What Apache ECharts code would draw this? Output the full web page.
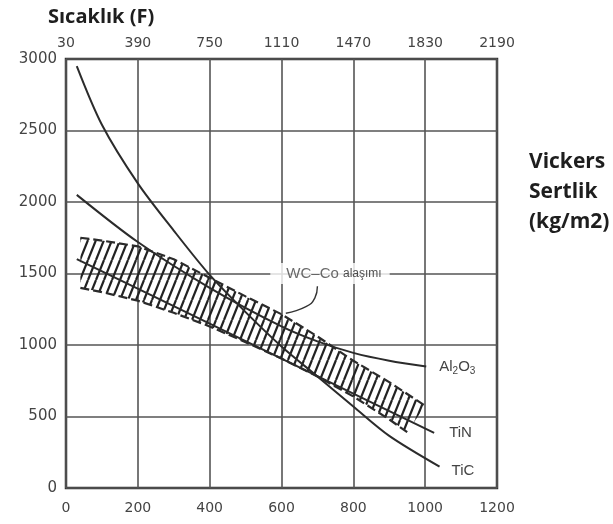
<!DOCTYPE html>
<html>
<head>
<meta charset="utf-8">
<script src="https://cdn.jsdelivr.net/npm/echarts@6/dist/echarts.min.js"></script>
<style>
html,body{margin:0;padding:0;background:#fff;}
#chart{width:613px;height:524px;}
</style>
</head>
<body>
<div id="chart"></div>
<script>
// ---- data (temperature °C on x, Vickers hardness on y) ----
const xTicks = [0, 200, 400, 600, 800, 1000, 1200];
const topTickLabels = ['30', '390', '750', '1110', '1470', '1830', '2190'];
const yTicks = [0, 500, 1000, 1500, 2000, 2500, 3000];

const ticX = [30, 100, 200, 300, 400, 500, 600, 700, 800, 900, 1040];
const ticY = [2950, 2540, 2130, 1800, 1490, 1230, 990, 780, 570, 365, 150];

const tinX = [30, 400, 800, 1025];
const tinY = [1600, 1150, 660, 385];

const aloX = [30, 200, 400, 600, 700, 800, 900, 1003];
const aloY = [2050, 1720, 1400, 1130, 1025, 945, 890, 850];

const wcUpperX = [40, 100, 200, 300, 400, 500, 600, 700, 800, 900, 1000];
const wcUpperY = [1750, 1730, 1690, 1600, 1470, 1340, 1215, 1060, 890, 740, 575];
const wcLowerX = [40, 100, 200, 300, 400, 500, 600, 700, 800, 900, 950];
const wcLowerY = [1400, 1370, 1310, 1225, 1130, 1020, 905, 780, 640, 480, 390];

const leaderX = [700, 693, 668, 612];
const leaderY = [1410, 1330, 1268, 1222];

const wcLabelPos = [735, 1500];

// ---- helpers ----
const pair = (xs, ys) => xs.map((x, i) => [x, ys[i]]);

function hatchPattern() {
  const w = 8, h = 20;
  const c = document.createElement('canvas');
  c.width = w; c.height = h;
  const g = c.getContext('2d');
  g.strokeStyle = '#222';
  g.lineWidth = 2.2;
  for (const dx of [-w, 0, w]) {
    g.beginPath();
    g.moveTo(dx, h);
    g.lineTo(dx + w, 0);
    g.stroke();
  }
  return c;
}
const pattern = { image: hatchPattern(), repeat: 'repeat' };

const lineCol = '#2b2b2b';
const axisFont = 'DejaVu Sans';

const chart = echarts.init(document.getElementById('chart'), null, { renderer: 'canvas' });

const solid = (name, xs, ys, label, offset, dist) => ({
  name, type: 'line', data: pair(xs, ys), symbol: 'none', smooth: 0.3,
  lineStyle: { color: lineCol, width: 2 }, z: 5, silent: true,
  endLabel: {
    show: true, formatter: label, distance: dist, offset: offset,
    color: '#444', fontFamily: 'Liberation Sans', fontSize: 15,
    rich: { s: { fontSize: 10, color: '#444', fontFamily: 'Liberation Sans', padding: [9, 0, 0, 0] } }
  }
});

chart.setOption({
  animation: false,
  backgroundColor: '#fff',
  title: [
    { text: 'Sıcaklık (F)', left: 43, top: 2,
      textStyle: { fontFamily: 'Open Sans', fontWeight: 'bold', fontSize: 20, color: '#1e1e1e' } },
    { text: 'Vickers\nSertlik\n(kg/m2)', left: 524, top: 142,
      textStyle: { fontFamily: 'Open Sans', fontWeight: 'bold', fontSize: 21, color: '#1e1e1e', lineHeight: 30 } }
  ],
  grid: { left: 66, right: 116, top: 59, bottom: 36, show: true,
          borderColor: '#333', borderWidth: 2.5, backgroundColor: 'transparent' },
  xAxis: [
    { type: 'value', position: 'bottom', min: 0, max: 1200, interval: 200,
      axisLine: { show: false }, axisTick: { show: false },
      splitLine: { show: true, lineStyle: { color: '#555', width: 1.6 } },
      axisLabel: { margin: 13, color: '#444', fontFamily: axisFont, fontSize: 14,
                   formatter: (v) => String(v) } },
    { type: 'value', position: 'top', min: 0, max: 1200, interval: 200,
      axisLine: { show: false }, axisTick: { show: false }, splitLine: { show: false },
      axisLabel: { margin: 9, color: '#444', fontFamily: axisFont, fontSize: 14,
                   formatter: (v) => topTickLabels[xTicks.indexOf(v)] } }
  ],
  yAxis: {
    type: 'value', min: 0, max: 3000, interval: 500,
    axisLine: { show: false }, axisTick: { show: false },
    splitLine: { show: true, lineStyle: { color: '#555', width: 1.6 } },
    axisLabel: { margin: 9, color: '#444', fontFamily: axisFont, fontSize: 15,
                 formatter: (v) => String(v) }
  },
  series: [
    {
      name: 'WC-Co band', type: 'custom', silent: true, z: 2,
      data: [[600, 1000]],
      renderItem: (params, api) => {
        const pts = [];
        for (let i = 0; i < wcUpperX.length; i++) pts.push(api.coord([wcUpperX[i], wcUpperY[i]]));
        for (let i = wcLowerX.length - 1; i >= 0; i--) pts.push(api.coord([wcLowerX[i], wcLowerY[i]]));
        return { type: 'polygon', shape: { points: pts }, style: { fill: pattern, stroke: null } };
      }
    },
    { name: 'WC-Co upper', type: 'line', data: pair(wcUpperX, wcUpperY), symbol: 'none', silent: true, z: 3,
      lineStyle: { color: lineCol, width: 2.2, type: [9, 4] } },
    { name: 'WC-Co lower', type: 'line', data: pair(wcLowerX, wcLowerY), symbol: 'none', silent: true, z: 3,
      lineStyle: { color: lineCol, width: 2.2, type: [9, 4] } },
    solid('TiC', ticX, ticY, 'TiC', [0, 4], 12),
    solid('TiN', tinX, tinY, 'TiN', [0, 0], 15),
    solid('Al2O3', aloX, aloY, 'Al{s|2}O{s|3}', [0, 0], 13),
    { name: 'leader', type: 'line', data: pair(leaderX, leaderY), symbol: 'none', smooth: 0.5, silent: true, z: 6,
      lineStyle: { color: '#333', width: 1.4 } },
    { name: 'WC-Co label', type: 'scatter', data: [wcLabelPos], symbolSize: 0, silent: true, z: 10,
      label: { show: true, position: 'inside',
        formatter: '{a|WC–Co }{b|alaşımı}',
        backgroundColor: '#fff', padding: [3, 8, 3, 16],
        rich: {
          a: { fontFamily: 'Liberation Sans', fontSize: 15, color: '#444' },
          b: { fontFamily: 'Liberation Sans', fontSize: 12, color: '#222' }
        } } }
  ]
});
</script>
</body>
</html>
